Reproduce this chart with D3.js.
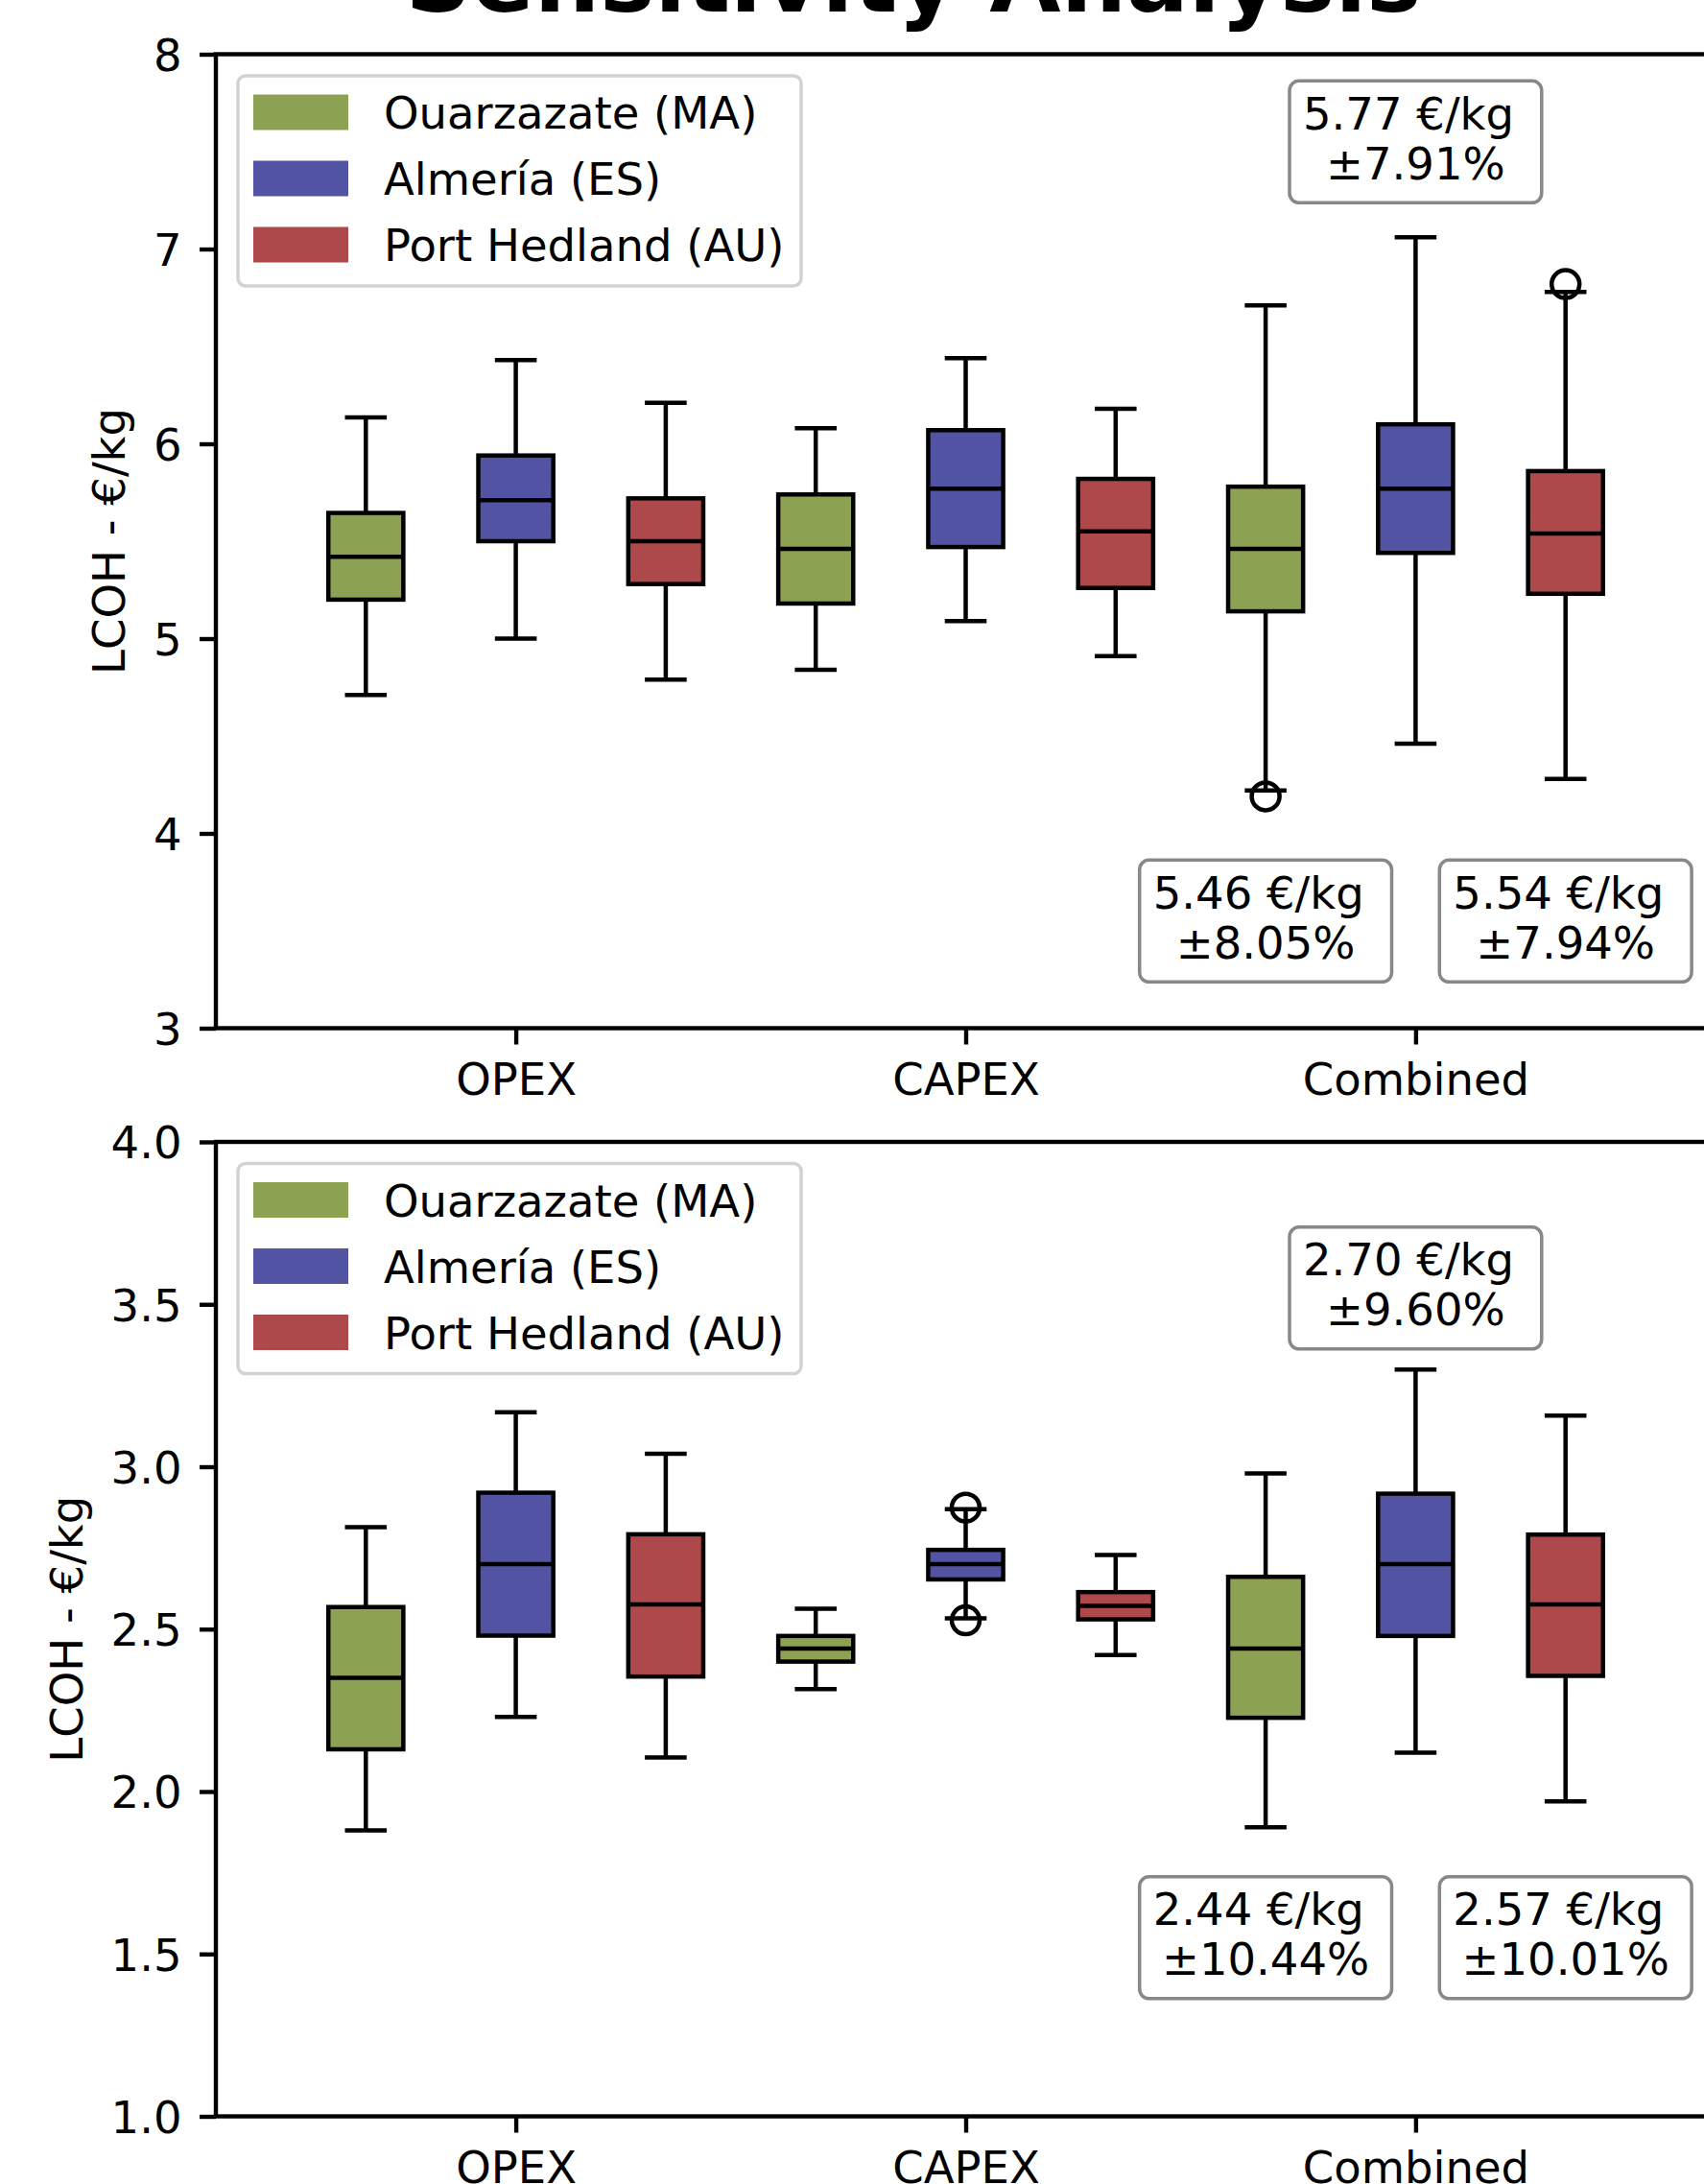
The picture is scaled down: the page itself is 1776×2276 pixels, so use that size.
<!DOCTYPE html>
<html>
<head>
<meta charset="utf-8">
<script src="https://cdn.jsdelivr.net/npm/d3@7"></script>
<style>
  html, body { margin: 0; padding: 0; background: #fff; }
  svg { display: block; font-family: "DejaVu Sans", sans-serif; }
</style>
</head>
<body>
<svg id="chart" width="1776" height="2276"></svg>
<script>
const categories = ["OPEX", "CAPEX", "Combined"];
const sites = ["Ouarzazate (MA)", "Almería (ES)", "Port Hedland (AU)"];
const siteColors = ["#8ca252", "#5254a3", "#ad494a"];

// boxes are ordered OPEX (MA, ES, AU), CAPEX (MA, ES, AU), Combined (MA, ES, AU)
const topLow    = [4.71, 5.00, 4.79, 4.84, 5.09, 4.91, 4.22, 4.46, 4.28];
const topQ1     = [5.20, 5.50, 5.28, 5.18, 5.47, 5.26, 5.14, 5.44, 5.23];
const topMedian = [5.42, 5.71, 5.50, 5.46, 5.77, 5.55, 5.46, 5.77, 5.54];
const topQ3     = [5.645, 5.94, 5.72, 5.74, 6.07, 5.82, 5.78, 6.10, 5.86];
const topHigh   = [6.135, 6.43, 6.21, 6.08, 6.44, 6.18, 6.71, 7.06, 6.78];
const topFliers = [[], [], [], [], [], [], [4.19], [], [6.82]];
const topTicks  = [3, 4, 5, 6, 7, 8];
const topNotes  = ["5.46 €/kg ", "5.77 €/kg ", "5.54 €/kg "];
const topPcts   = ["±8.05%", "±7.91%", "±7.94%"];
const topNoteY  = [3.55, 7.55, 3.55];

const botLow    = [1.88, 2.23, 2.105, 2.315, 2.533, 2.42, 1.89, 2.12, 1.97];
const botQ1     = [2.13, 2.48, 2.354, 2.40, 2.653, 2.53, 2.227, 2.479, 2.356];
const botMedian = [2.35, 2.70, 2.576, 2.44, 2.70, 2.572, 2.44, 2.70, 2.576];
const botQ3     = [2.568, 2.92, 2.792, 2.479, 2.744, 2.614, 2.661, 2.917, 2.791];
const botHigh   = [2.814, 3.168, 3.04, 2.563, 2.869, 2.728, 2.979, 3.299, 3.157];
const botFliers = [[], [], [], [], [2.874, 2.527], [], [], [], []];
const botTicks  = [1.0, 1.5, 2.0, 2.5, 3.0, 3.5, 4.0];
const botNotes  = ["2.44 €/kg ", "2.70 €/kg ", "2.57 €/kg "];
const botPcts   = ["±10.44%", "±9.60%", "±10.01%"];
const botNoteY  = [1.55, 3.55, 1.55];

const FONT = 46.5;
const LW = 4.5;
const svg = d3.select("#chart");
const x = d3.scaleLinear().domain([0, 10]).range([225, 1788]);

svg.append("text")
    .attr("x", 952)
    .attr("y", 12)
    .attr("text-anchor", "middle")
    .attr("font-size", 96)
    .attr("font-weight", "bold")
    .text("Sensitivity Analysis");

const drawPanel = (cfg) => {
    const y = d3.scaleLinear().domain(cfg.domain).range([cfg.bottom, cfg.top]);
    const g = svg.append("g");

    const boxes = d3.range(9).map(i => ({
        pos: i + 1,
        color: siteColors[i % 3],
        low: cfg.low[i], q1: cfg.q1[i], med: cfg.median[i], q3: cfg.q3[i], high: cfg.high[i],
        fliers: cfg.fliers[i]
    }));

    // whiskers
    g.selectAll(".whisker").data(boxes).join("path")
        .attr("d", d => `M${x(d.pos)},${y(d.q3)}V${y(d.high)}M${x(d.pos)},${y(d.q1)}V${y(d.low)}`)
        .attr("stroke", "#000").attr("stroke-width", LW);

    // caps
    g.selectAll(".cap").data(boxes).join("path")
        .attr("d", d => `M${x(d.pos - 0.125)},${y(d.high)}H${x(d.pos + 0.125)}M${x(d.pos - 0.125)},${y(d.low)}H${x(d.pos + 0.125)}`)
        .attr("stroke", "#000").attr("stroke-width", LW).attr("stroke-linecap", "square");

    // boxes
    g.selectAll(".box").data(boxes).join("rect")
        .attr("x", d => x(d.pos - 0.25))
        .attr("width", d => x(d.pos + 0.25) - x(d.pos - 0.25))
        .attr("y", d => y(d.q3))
        .attr("height", d => y(d.q1) - y(d.q3))
        .attr("fill", d => d.color)
        .attr("stroke", "#000").attr("stroke-width", LW);

    // medians
    g.selectAll(".median").data(boxes).join("line")
        .attr("x1", d => x(d.pos - 0.25)).attr("x2", d => x(d.pos + 0.25))
        .attr("y1", d => y(d.med)).attr("y2", d => y(d.med))
        .attr("stroke", "#000").attr("stroke-width", LW);

    // outliers
    const fliers = boxes.flatMap(d => d.fliers.map(v => ({pos: d.pos, v})));
    g.selectAll(".flier").data(fliers).join("circle")
        .attr("cx", d => x(d.pos)).attr("cy", d => y(d.v)).attr("r", 14.5)
        .attr("fill", "none").attr("stroke", "#000").attr("stroke-width", LW);

    // spines
    g.append("rect")
        .attr("x", x(0)).attr("y", cfg.top)
        .attr("width", x(10) - x(0)).attr("height", cfg.bottom - cfg.top)
        .attr("fill", "none").attr("stroke", "#000").attr("stroke-width", 4.4);

    const styleAxis = (a) => {
        a.select(".domain").remove();
        a.selectAll(".tick line").attr("stroke", "#000").attr("stroke-width", 4.4);
        a.selectAll(".tick text").attr("fill", "#000").attr("font-size", FONT)
            .attr("font-family", "DejaVu Sans");
    };

    g.append("g")
        .attr("transform", `translate(${x(0)},0)`)
        .call(d3.axisLeft(y).tickValues(cfg.ticks).tickFormat(cfg.fmt).tickSize(17).tickPadding(18.5))
        .call(styleAxis)
        .call(a => a.selectAll(".tick text").attr("dy", "0.36em"));

    g.append("g")
        .attr("transform", `translate(0,${cfg.bottom})`)
        .call(d3.axisBottom(x).tickValues([2, 5, 8]).tickFormat((d, i) => categories[i]).tickSize(17).tickPadding(18.5))
        .call(styleAxis)
        .call(a => a.selectAll(".tick text").attr("dy", "0.73em"));

    g.append("text")
        .attr("transform", `translate(${cfg.labelX},${(cfg.top + cfg.bottom) / 2}) rotate(-90)`)
        .attr("text-anchor", "middle")
        .attr("font-size", FONT)
        .text("LCOH - €/kg");

    // legend
    const leg = g.append("g").attr("transform", `translate(248,${cfg.top + 22.5})`);
    leg.append("rect")
        .attr("width", 587).attr("height", 219).attr("rx", 8)
        .attr("fill", "#fff").attr("fill-opacity", 0.8)
        .attr("stroke", "#d2d2d2").attr("stroke-width", 3.5);
    sites.forEach((s, i) => {
        const cy = 38 + i * 69;
        leg.append("rect").attr("x", 16).attr("y", cy - 18.5).attr("width", 99).attr("height", 37)
            .attr("fill", siteColors[i]);
        leg.append("text").attr("x", 152).attr("y", cy + 17).attr("font-size", FONT).text(s);
    });

    // annotations above / below the Combined boxes
    cfg.notes.forEach((note, i) => {
        const cx = x(7 + i);
        const cy = y(cfg.noteY[i]);
        const a = g.append("g");
        const box = a.append("rect");
        const t1 = a.append("text").attr("x", cx).attr("y", cy - 13)
            .attr("text-anchor", "middle").attr("font-size", FONT)
            .style("white-space", "pre").text(note);
        const t2 = a.append("text").attr("x", cx).attr("y", cy + 39)
            .attr("text-anchor", "middle").attr("font-size", FONT)
            .style("white-space", "pre").text(cfg.pcts[i]);
        const w = Math.max(t1.node().getComputedTextLength(), t2.node().getComputedTextLength()) + 28;
        box.attr("x", cx - w / 2).attr("y", cy - 63.5).attr("width", w).attr("height", 127)
            .attr("rx", 10).attr("fill", "#fff")
            .attr("stroke", "#888").attr("stroke-width", 3.5);
    });
};

drawPanel({
    domain: [3, 8], top: 56.5, bottom: 1071.5, ticks: topTicks, fmt: d3.format("d"), labelX: 129.5,
    low: topLow, q1: topQ1, median: topMedian, q3: topQ3, high: topHigh, fliers: topFliers,
    notes: topNotes, pcts: topPcts, noteY: topNoteY
});

drawPanel({
    domain: [1, 4], top: 1190, bottom: 2205.5, ticks: botTicks, fmt: d3.format(".1f"), labelX: 86,
    low: botLow, q1: botQ1, median: botMedian, q3: botQ3, high: botHigh, fliers: botFliers,
    notes: botNotes, pcts: botPcts, noteY: botNoteY
});
</script>
</body>
</html>
